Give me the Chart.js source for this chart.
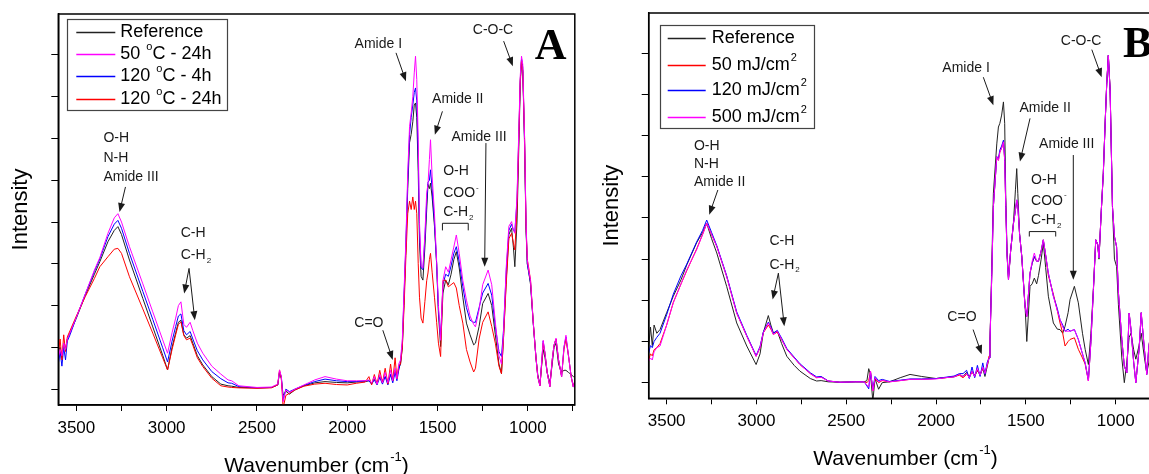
<!DOCTYPE html>
<html lang="en">
<head>
<meta charset="UTF-8">
<title>FTIR spectra A / B</title>
<script src="https://cdn.jsdelivr.net/npm/chart.js@4.4.1/dist/chart.umd.min.js"></script>
<style>
  html, body { margin: 0; padding: 0; background: #fff; overflow: hidden; }
  body { width: 1149px; height: 474px; position: relative; }
  canvas { position: absolute; top: 0; }
  #chartA { left: 0; }
  #chartB { left: 590px; }
</style>
</head>
<body>
<canvas id="chartA" width="580" height="474"></canvas>
<canvas id="chartB" width="580" height="474"></canvas>
<script>
// ---- panel A : thermal treatment ----
const waveA = [3600,3590,3580,3570,3560,3550,3535,3500,3450,3400,
  3370,3325,3290,3270,3250,3206,3132,3077,3022,2995,
  2970,2950,2935,2921,2905,2890,2870,2855,2830,2800,
  2750,2700,2660,2640,2600,2500,2420,2385,2375,2365,
  2355,2340,2320,2290,2240,2180,2123,2060,2000,1950,
  1900,1880,1865,1850,1835,1820,1805,1790,1775,1760,
  1748,1735,1725,1715,1705,1695,1685,1675,1665,1655,
  1646,1637,1629,1622,1615,1607,1600,1591,1581,1570,
  1560,1553,1545,1539,1530,1517,1505,1495,1483,1470,
  1455,1440,1425,1410,1396,1380,1360,1340,1320,1300,
  1290,1270,1250,1220,1200,1180,1160,1146,1135,1120,
  1105,1090,1080,1072,1060,1050,1042,1035,1028,1018,
  1010,1003,995,985,970,955,945,933,925,915,
  905,893,878,865,855,844,830,813,800,789,
  775,760,748,740]

const refA = [0.9,1.0,0.75,1.1,0.95,1.2,1.35,1.7,2.25,2.75,
  3.05,3.53,3.8,3.89,3.7,3.09,2.17,1.49,0.81,0.46,
  1.0,1.35,1.6,1.65,1.3,1.22,1.28,1.1,0.8,0.58,
  0.3,0.12,0.08,0.07,0.04,0.03,0.04,0.1,0.4,0.25,
  -0.15,-0.05,-0.12,-0.02,0.08,0.15,0.18,0.16,0.15,0.17,
  0.18,0.2,0.15,0.25,0.15,0.3,0.2,0.3,0.18,0.35,
  0.2,0.45,0.3,0.5,0.6,1.0,2.2,3.4,4.8,5.9,
  6.1,6.4,6.8,6.85,6.5,5.2,3.5,2.7,2.61,3.4,
  4.3,4.9,4.8,4.93,4.6,3.9,3.0,1.8,1.02,2.3,
  2.61,2.5,2.75,3.1,3.29,2.9,2.2,1.58,1.3,1.06,
  1.1,1.5,2.05,2.29,2.0,1.3,0.6,0.37,1.2,2.6,
  3.7,3.85,3.4,2.93,4.0,5.8,7.3,7.9,7.6,5.8,
  3.8,3.0,2.8,2.5,1.58,0.75,0.35,0.1,0.5,0.95,
  0.75,0.4,0.15,0.6,1.0,1.1,0.6,0.4,0.45,0.45,
  0.4,0.35,0.3,0.3]

const c50h24 = [0.75,0.95,0.8,1.1,0.95,1.2,1.35,1.72,2.28,2.85,
  3.15,3.73,4.1,4.2,4.0,3.41,2.52,1.85,1.18,0.86,
  1.35,1.7,2.0,2.09,1.55,1.48,1.6,1.4,1.1,0.86,
  0.55,0.36,0.22,0.2,0.08,0.04,0.05,0.12,0.46,0.3,
  -0.3,-0.02,-0.08,0.0,0.1,0.22,0.3,0.24,0.2,0.2,
  0.2,0.22,0.15,0.3,0.12,0.35,0.15,0.4,0.15,0.45,
  0.2,0.5,0.25,0.6,0.7,1.2,2.4,3.6,5.17,6.29,
  6.61,7.0,7.57,7.97,7.41,5.97,3.98,2.94,2.9,3.7,
  4.7,4.9,5.5,5.97,5.1,4.2,3.05,2.0,1.17,2.6,
  2.93,2.8,3.1,3.4,3.69,3.25,2.6,2.13,1.75,1.55,
  1.49,1.9,2.5,2.85,2.5,1.6,0.8,0.6,1.3,2.9,
  3.9,4.01,3.8,3.73,4.6,6.2,7.5,7.97,7.77,6.0,
  4.0,3.1,2.85,2.6,1.6,0.75,0.3,0.08,0.55,1.17,
  0.85,0.4,0.06,0.7,1.05,1.22,0.7,0.3,1.0,1.29,
  0.8,0.3,0.05,0.2]

const c120h4 = [0.6,0.9,0.55,1.0,0.7,1.15,1.3,1.72,2.28,2.82,
  3.12,3.65,3.95,4.04,3.85,3.25,2.34,1.67,0.99,0.65,
  1.15,1.5,1.75,1.8,1.4,1.3,1.38,1.2,0.92,0.7,
  0.42,0.25,0.15,0.14,0.06,0.03,0.04,0.1,0.42,0.3,
  -0.25,0.0,-0.06,0.0,0.09,0.18,0.24,0.2,0.18,0.18,
  0.2,0.2,0.12,0.22,0.1,0.28,0.12,0.3,0.1,0.35,
  0.15,0.4,0.2,0.45,0.65,1.1,2.3,3.5,5.0,6.1,
  6.5,6.8,7.1,7.21,6.9,5.6,3.8,2.9,2.86,3.6,
  4.5,4.95,5.0,5.25,4.8,4.0,3.0,1.9,1.25,2.5,
  2.75,2.7,2.95,3.25,3.41,3.05,2.45,1.95,1.65,1.6,
  1.6,1.95,2.3,2.53,2.25,1.5,0.9,0.78,1.4,2.8,
  3.8,3.95,3.8,3.77,4.5,6.1,7.4,7.9,7.7,5.9,
  3.9,3.0,2.8,2.55,1.58,0.75,0.3,0.08,0.55,1.15,
  0.85,0.4,0.06,0.7,1.05,1.2,0.7,0.3,1.0,1.25,
  0.8,0.3,0.05,0.2]

const c120h24 = [0.85,1.2,0.7,1.3,0.9,1.25,1.4,1.75,2.22,2.65,
  2.93,3.17,3.35,3.37,3.25,2.69,1.92,1.34,0.75,0.46,
  0.95,1.3,1.55,1.61,1.28,1.18,1.22,1.05,0.75,0.54,
  0.26,0.08,0.05,0.04,0.03,0.02,0.03,0.1,0.46,0.25,
  -0.45,-0.15,-0.1,-0.02,0.07,0.12,0.14,0.11,0.1,0.14,
  0.17,0.3,0.1,0.35,0.12,0.45,0.15,0.5,0.12,0.6,
  0.2,0.75,0.25,0.55,0.6,1.0,2.0,3.2,4.2,4.5,
  4.3,4.6,4.3,4.5,4.2,3.0,2.2,1.7,1.58,2.1,
  2.6,2.78,3.1,3.25,2.8,2.2,1.6,1.1,0.78,2.6,
  2.61,2.45,2.5,2.55,2.42,2.0,1.58,0.95,0.65,0.41,
  0.5,1.2,1.6,1.85,1.5,1.1,0.55,0.37,1.2,2.5,
  3.6,3.73,3.5,3.33,4.3,6.0,7.4,7.85,7.6,6.0,
  3.9,3.1,2.9,2.6,1.6,0.75,0.3,0.08,0.5,1.1,
  0.85,0.4,0.06,0.7,1.05,1.2,0.7,0.3,0.95,1.2,
  0.8,0.3,0.05,0.2]

// ---- panel B : UV dose ----
const waveB = [3600,3590,3580,3570,3555,3537,3500,3463,3420,3388,
  3333,3300,3277,3250,3221,3166,3110,3054,3002,2980,
  2962,2934,2920,2906,2884,2860,2831,2790,2758,2700,
  2665,2640,2600,2535,2450,2400,2385,2375,2365,2352,
  2340,2320,2300,2260,2200,2145,2080,2000,1950,1900,
  1870,1850,1830,1815,1800,1785,1770,1755,1740,1728,
  1715,1705,1700,1690,1681,1662,1653,1645,1635,1625,
  1618,1612,1605,1597,1585,1569,1558,1551,1545,1535,
  1523,1505,1495,1477,1465,1453,1440,1430,1415,1403,
  1390,1375,1347,1325,1310,1295,1282,1265,1254,1230,
  1208,1185,1170,1152,1138,1124,1111,1100,1093,1080,
  1069,1058,1050,1041,1031,1018,1007,995,985,966,
  952,938,925,915,900,888,870,858,840,827,
  815,800,780,760,740]

const refB = [0.88,1.35,0.9,1.4,1.2,1.29,1.7,2.1,2.5,2.86,
  3.4,3.65,3.87,3.5,3.15,2.34,1.45,0.89,0.44,0.7,
  1.21,1.63,1.4,1.21,1.25,0.95,0.64,0.42,0.28,0.1,
  0.04,0.05,0.02,0.01,0.02,0.02,0.05,0.34,0.2,-0.45,
  0.1,-0.16,0.0,0.02,0.12,0.2,0.15,0.1,0.12,0.14,
  0.2,0.15,0.25,0.12,0.28,0.15,0.3,0.18,0.35,0.15,
  0.4,0.6,0.99,2.8,4.6,5.8,6.21,6.3,6.5,6.82,
  6.3,4.5,3.2,2.55,3.2,3.9,4.7,5.2,4.6,3.6,
  3.07,1.9,1.0,2.34,2.4,2.54,2.4,2.6,3.0,3.39,
  2.8,2.1,1.45,1.3,1.29,1.2,1.37,1.7,2.02,2.34,
  1.94,1.2,0.81,0.44,1.2,2.3,3.47,3.35,3.0,4.2,
  5.08,6.4,7.26,7.95,7.1,4.28,3.0,2.82,1.9,0.6,
  0.0,0.5,1.1,1.2,0.8,0.57,0.9,1.2,0.6,0.24,
  0.5,0.9,0.6,0.3,0.4]

const uv50 = [0.55,0.7,0.65,0.8,0.85,0.95,1.4,1.95,2.4,2.72,
  3.25,3.6,3.87,3.6,3.31,2.58,1.69,1.13,0.64,0.85,
  1.21,1.4,1.3,1.17,1.23,1.05,0.81,0.6,0.44,0.22,
  0.12,0.14,0.04,0.01,0.02,0.02,0.0,0.05,0.28,-0.2,
  0.1,0.0,0.05,0.02,0.05,0.08,0.08,0.1,0.12,0.15,
  0.18,0.12,0.2,0.15,0.25,0.18,0.3,0.2,0.35,0.25,
  0.42,0.65,0.99,2.6,4.28,5.49,5.4,5.6,5.7,5.85,
  5.4,4.28,3.1,2.5,3.2,3.87,4.2,4.4,4.3,3.6,
  3.07,1.86,1.61,2.66,2.9,3.05,2.95,2.95,3.2,3.47,
  3.1,2.6,2.15,1.75,1.45,1.2,0.89,1.0,1.05,1.09,
  0.81,0.6,0.45,0.04,1.0,2.26,3.47,3.35,3.03,4.2,
  5.08,6.4,7.26,7.95,7.1,4.28,3.55,3.3,2.2,1.05,
  0.4,0.24,1.69,1.3,0.5,0.0,0.8,1.7,0.8,0.2,
  0.9,1.3,0.7,0.3,0.5]

const uv120 = [0.72,0.9,0.85,1.0,1.1,1.2,1.65,2.15,2.6,2.88,
  3.42,3.7,3.95,3.65,3.33,2.6,1.72,1.15,0.66,0.88,
  1.23,1.47,1.35,1.2,1.27,1.08,0.83,0.62,0.46,0.24,
  0.14,0.15,0.04,0.01,0.02,0.02,-0.08,-0.15,0.25,-0.15,
  0.15,0.05,0.08,0.03,0.06,0.09,0.09,0.1,0.13,0.16,
  0.22,0.22,0.3,0.1,0.38,0.12,0.42,0.15,0.48,0.2,
  0.5,0.6,0.99,2.6,4.28,5.49,5.45,5.65,5.75,5.89,
  5.45,4.3,3.1,2.5,3.2,3.87,4.2,4.44,4.3,3.6,
  3.07,1.86,1.61,2.66,2.9,3.07,2.95,2.95,3.2,3.47,
  3.1,2.66,2.1,1.8,1.53,1.4,1.25,1.3,1.25,1.29,
  1.05,0.7,0.48,0.06,1.0,2.26,3.47,3.35,3.03,4.2,
  5.08,6.4,7.26,7.95,7.1,4.28,3.55,3.3,2.2,1.05,
  0.4,0.24,1.69,1.3,0.5,0.0,0.8,1.7,0.8,0.2,
  0.9,1.3,0.7,0.3,0.5]

const uv500 = [0.52,0.6,0.55,0.75,0.85,0.89,1.4,1.94,2.4,2.74,
  3.23,3.6,3.87,3.6,3.31,2.58,1.69,1.13,0.64,0.86,
  1.21,1.45,1.33,1.17,1.25,1.05,0.81,0.6,0.44,0.22,
  0.12,0.13,0.04,0.01,0.02,0.02,-0.06,-0.1,0.28,-0.2,
  0.12,0.02,0.06,0.02,0.05,0.08,0.08,0.09,0.12,0.14,
  0.2,0.15,0.22,0.12,0.28,0.15,0.35,0.18,0.38,0.22,
  0.45,0.6,0.99,2.6,4.28,5.49,5.4,5.6,5.7,5.85,
  5.4,4.28,3.1,2.5,3.2,3.87,4.2,4.44,4.3,3.6,
  3.07,1.86,1.61,2.66,2.95,3.15,2.95,2.95,3.2,3.47,
  3.1,2.66,2.1,1.75,1.53,1.35,1.25,1.25,1.25,1.29,
  1.05,0.7,0.48,0.04,1.0,2.26,3.47,3.35,3.03,4.2,
  5.08,6.4,7.26,7.95,7.1,4.28,3.55,3.3,2.2,1.05,
  0.4,0.24,1.69,1.3,0.5,0.0,0.8,1.7,0.8,0.2,
  0.9,1.3,0.7,0.3,0.5]

// band labels: [text, wavenumber, intensity, align]
const notesA = [
  ['O-H', 3350, 6.0, 'left'], ['N-H', 3350, 5.54, 'left'], ['Amide III', 3350, 5.08, 'left'],
  ['C-H', 2922, 3.74, 'left'], ['C-H{_2}', 2922, 3.21, 'left'],
  ['C=O', 1880, 1.58, 'center'],
  ['Amide I', 1828, 8.27, 'center'],
  ['Amide II', 1388, 6.93, 'center'],
  ['Amide III', 1270, 6.04, 'center'],
  ['O-H', 1469, 5.21, 'left'], ['COO{^-}', 1469, 4.69, 'left'], ['C-H{_2}', 1469, 4.23, 'left'],
  ['C-O-C', 1193, 8.59, 'center']
]
const arrowsA = [
  [3228, 4.84, 3261, 4.24],
  [2876, 2.89, 2903, 2.29], [2876, 2.89, 2844, 1.65],
  [1803, 1.41, 1748, 0.70],
  [1730, 8.05, 1675, 7.37],
  [1473, 6.65, 1515, 6.09],
  [1232, 5.89, 1239, 2.93],
  [1134, 8.33, 1083, 7.73]
]
const bracketA = [1473, 1330, 3.97, 3.80]

const notesB = [
  ['O-H', 3348, 5.75, 'left'], ['N-H', 3348, 5.30, 'left'], ['Amide II', 3348, 4.86, 'left'],
  ['C-H', 2928, 3.43, 'left'], ['C-H{_2}', 2928, 2.86, 'left'],
  ['C=O', 1856, 1.58, 'center'],
  ['Amide I', 1833, 7.63, 'center'],
  ['Amide II', 1393, 6.68, 'center'],
  ['Amide III', 1273, 5.79, 'center'],
  ['O-H', 1471, 4.92, 'left'], ['COO{^-}', 1471, 4.41, 'left'], ['C-H{_2}', 1471, 3.95, 'left'],
  ['C-O-C', 1193, 8.30, 'center']
]
const arrowsB = [
  [3215, 4.68, 3263, 4.08],
  [2878, 2.66, 2910, 2.02], [2878, 2.66, 2845, 1.37],
  [1794, 1.29, 1746, 0.69],
  [1737, 7.42, 1681, 6.74],
  [1477, 6.42, 1533, 5.37],
  [1236, 5.53, 1236, 2.50],
  [1133, 8.09, 1078, 7.42]
]
const bracketB = [1481, 1334, 3.67, 3.55]

const FONT = '"Liberation Sans", Arial, sans-serif'

// text with {^sup} / {_sub} pieces
function parts(str) {
  const out = []
  const re = /\{([\^_])([^}]*)\}/g
  let last = 0, m
  while ((m = re.exec(str))) {
    if (m.index > last) out.push({ t: str.slice(last, m.index), k: '' })
    out.push({ t: m[2], k: m[1] })
    last = re.lastIndex
  }
  if (last < str.length) out.push({ t: str.slice(last), k: '' })
  return out
}

function drawRich(ctx, str, x, y, size, align) {
  const ps = parts(str)
  const small = Math.round(size * 0.6)
  let total = 0
  ps.forEach(p => {
    ctx.font = (p.k ? small : size) + 'px ' + FONT
    p.w = ctx.measureText(p.t).width + (p.k ? 1 : 0)
    total += p.w
  })
  let cx = align === 'center' ? x - total / 2 : x
  ctx.textAlign = 'left'
  ctx.textBaseline = 'middle'
  ps.forEach(p => {
    ctx.font = (p.k ? small : size) + 'px ' + FONT
    let dy = 0
    if (p.k === '^') dy = -size * 0.42
    if (p.k === '_') dy = size * 0.38
    ctx.fillText(p.t, cx + (p.k ? 1 : 0), y + dy)
    cx += p.w
  })
}

function arrow(ctx, x1, y1, x2, y2) {
  const a = Math.atan2(y2 - y1, x2 - x1), len = 9, hw = 3.5
  const c = Math.cos(a), s = Math.sin(a)
  ctx.beginPath()
  ctx.moveTo(x1, y1)
  ctx.lineTo(x2 - c * len * 0.7, y2 - s * len * 0.7)
  ctx.stroke()
  ctx.beginPath()
  ctx.moveTo(x2, y2)
  ctx.lineTo(x2 - c * len + s * hw, y2 - s * len - c * hw)
  ctx.lineTo(x2 - c * len - s * hw, y2 - s * len + c * hw)
  ctx.closePath()
  ctx.fill()
}

// frame, legend, band labels, titles
const decor = {
  id: 'decor',
  afterDraw(chart, args, o) {
    const { ctx, chartArea: a } = chart
    const sx = chart.scales.x, sy = chart.scales.y
    ctx.save()
    ctx.strokeStyle = '#000'
    ctx.lineWidth = 1.5
    ctx.strokeRect(a.left, a.top, a.right - a.left, a.bottom - a.top)

    // legend box
    const L = o.legend
    const lx = Math.round(a.left + L.x) + 0.5, ly = Math.round(a.top + L.y) + 0.5
    ctx.fillStyle = '#fff'
    ctx.fillRect(lx, ly, L.w, L.h)
    ctx.strokeStyle = '#444'
    ctx.lineWidth = 1.2
    ctx.strokeRect(lx, ly, L.w, L.h)
    chart.data.datasets.forEach((ds, i) => {
      const yy = Math.round(a.top + L.rows[i]) + 0.5
      ctx.strokeStyle = ds.borderColor
      ctx.lineWidth = 1.4
      ctx.beginPath()
      ctx.moveTo(a.left + L.line[0], yy)
      ctx.lineTo(a.left + L.line[1], yy)
      ctx.stroke()
      ctx.fillStyle = '#000'
      drawRich(ctx, ds.label, a.left + L.textX, yy, 18, 'left')
    })

    // band labels
    ctx.fillStyle = '#1a1a1a'
    o.notes.forEach(n => {
      drawRich(ctx, n[0], sx.getPixelForValue(n[1]), sy.getPixelForValue(n[2]), 14, n[3])
    })
    ctx.strokeStyle = '#1a1a1a'
    ctx.lineWidth = 1
    o.arrows.forEach(r => {
      arrow(ctx, sx.getPixelForValue(r[0]), sy.getPixelForValue(r[1]),
        sx.getPixelForValue(r[2]), sy.getPixelForValue(r[3]))
    })
    const b = o.bracket
    const bx1 = sx.getPixelForValue(b[0]), bx2 = sx.getPixelForValue(b[1])
    const by1 = sy.getPixelForValue(b[2]), by2 = sy.getPixelForValue(b[3])
    ctx.beginPath()
    ctx.moveTo(bx1, by2); ctx.lineTo(bx1, by1); ctx.lineTo(bx2, by1); ctx.lineTo(bx2, by2)
    ctx.stroke()

    // panel letter
    ctx.fillStyle = '#000'
    ctx.font = 'bold 44px "Liberation Serif", "Times New Roman", serif'
    ctx.textAlign = 'left'
    ctx.textBaseline = 'alphabetic'
    ctx.fillText(o.letter[0], sx.getPixelForValue(o.letter[1]), sy.getPixelForValue(o.letter[2]))

    // axis titles
    drawRich(ctx, 'Wavenumber (cm{^-1})', (a.left + a.right) / 2, a.bottom + 61, 21, 'center')
    ctx.translate(a.left - 37, (a.top + a.bottom) / 2)
    ctx.rotate(-Math.PI / 2)
    ctx.font = '22px ' + FONT
    ctx.textAlign = 'center'
    ctx.textBaseline = 'middle'
    ctx.fillText('Intensity', 0, 0)
    ctx.restore()
  }
}

function series(label, wave, vals, color, order) {
  return {
    label: label,
    data: wave.map((w, i) => ({ x: w, y: vals[i] })),
    borderColor: color,
    borderWidth: 1,
    pointRadius: 0,
    tension: 0,
    fill: false,
    order: order
  }
}

function makeChart(id, datasets, box, decorOpts) {
  return new Chart(document.getElementById(id), {
    type: 'line',
    data: { datasets: datasets },
    plugins: [decor],
    options: {
      responsive: false,
      animation: false,
      events: [],
      layout: { padding: { top: box.top, right: box.right, left: 0, bottom: 0 } },
      plugins: {
        legend: { display: false },
        tooltip: { enabled: false },
        decor: decorOpts
      },
      scales: {
        x: {
          type: 'linear',
          reverse: true,
          min: 740,
          max: 3600,
          afterFit: s => { s.height = box.xh },
          ticks: {
            stepSize: 250,
            includeBounds: false,
            autoSkip: false,
            maxRotation: 0,
            padding: 7,
            color: '#000',
            font: { family: FONT, size: 17 },
            callback: v => (v % 500 === 0 ? String(v) : '')
          },
          grid: { drawOnChartArea: false, drawTicks: true, tickLength: 6, color: '#000' },
          border: { display: true, color: '#000', width: 1.5 }
        },
        y: {
          min: -0.38,
          max: 8.98,
          afterFit: s => { s.width = box.yw },
          ticks: { stepSize: 1, includeBounds: false, padding: 0, callback: () => '' },
          grid: { drawOnChartArea: false, drawTicks: true, tickLength: 7, color: '#000' },
          border: { display: true, color: '#000', width: 1.5 }
        }
      }
    }
  })
}

makeChart('chartA', [
  series('Reference', waveA, refA, '#222222', 3),
  series('50 {^o}C - 24h', waveA, c50h24, '#ff00ff', 0),
  series('120 {^o}C - 4h', waveA, c120h4, '#0000ff', 2),
  series('120 {^o}C - 24h', waveA, c120h24, '#ff0000', 1)
], { top: 14, right: 2, xh: 69, yw: 58.3 }, {
  legend: { x: 8.4, y: 5, w: 160, h: 91, rows: [18, 39.5, 62, 85], line: [18, 57], textX: 62 },
  notes: notesA, arrows: arrowsA, bracket: bracketA, letter: ['A', 962, 7.91]
})

makeChart('chartB', [
  series('Reference', waveB, refB, '#222222', 3),
  series('50 mJ/cm{^2}', waveB, uv50, '#ff0000', 2),
  series('120 mJ/cm{^2}', waveB, uv120, '#0000ff', 1),
  series('500 mJ/cm{^2}', waveB, uv500, '#ff00ff', 0)
], { top: 13, right: 7.6, xh: 75.7, yw: 58.7 }, {
  legend: { x: 11, y: 12, w: 154, h: 103, rows: [25, 52, 77, 104], line: [19, 57], textX: 63 },
  notes: notesB, arrows: arrowsB, bracket: bracketB, letter: ['B', 959, 7.90]
})
</script>
</body>
</html>
